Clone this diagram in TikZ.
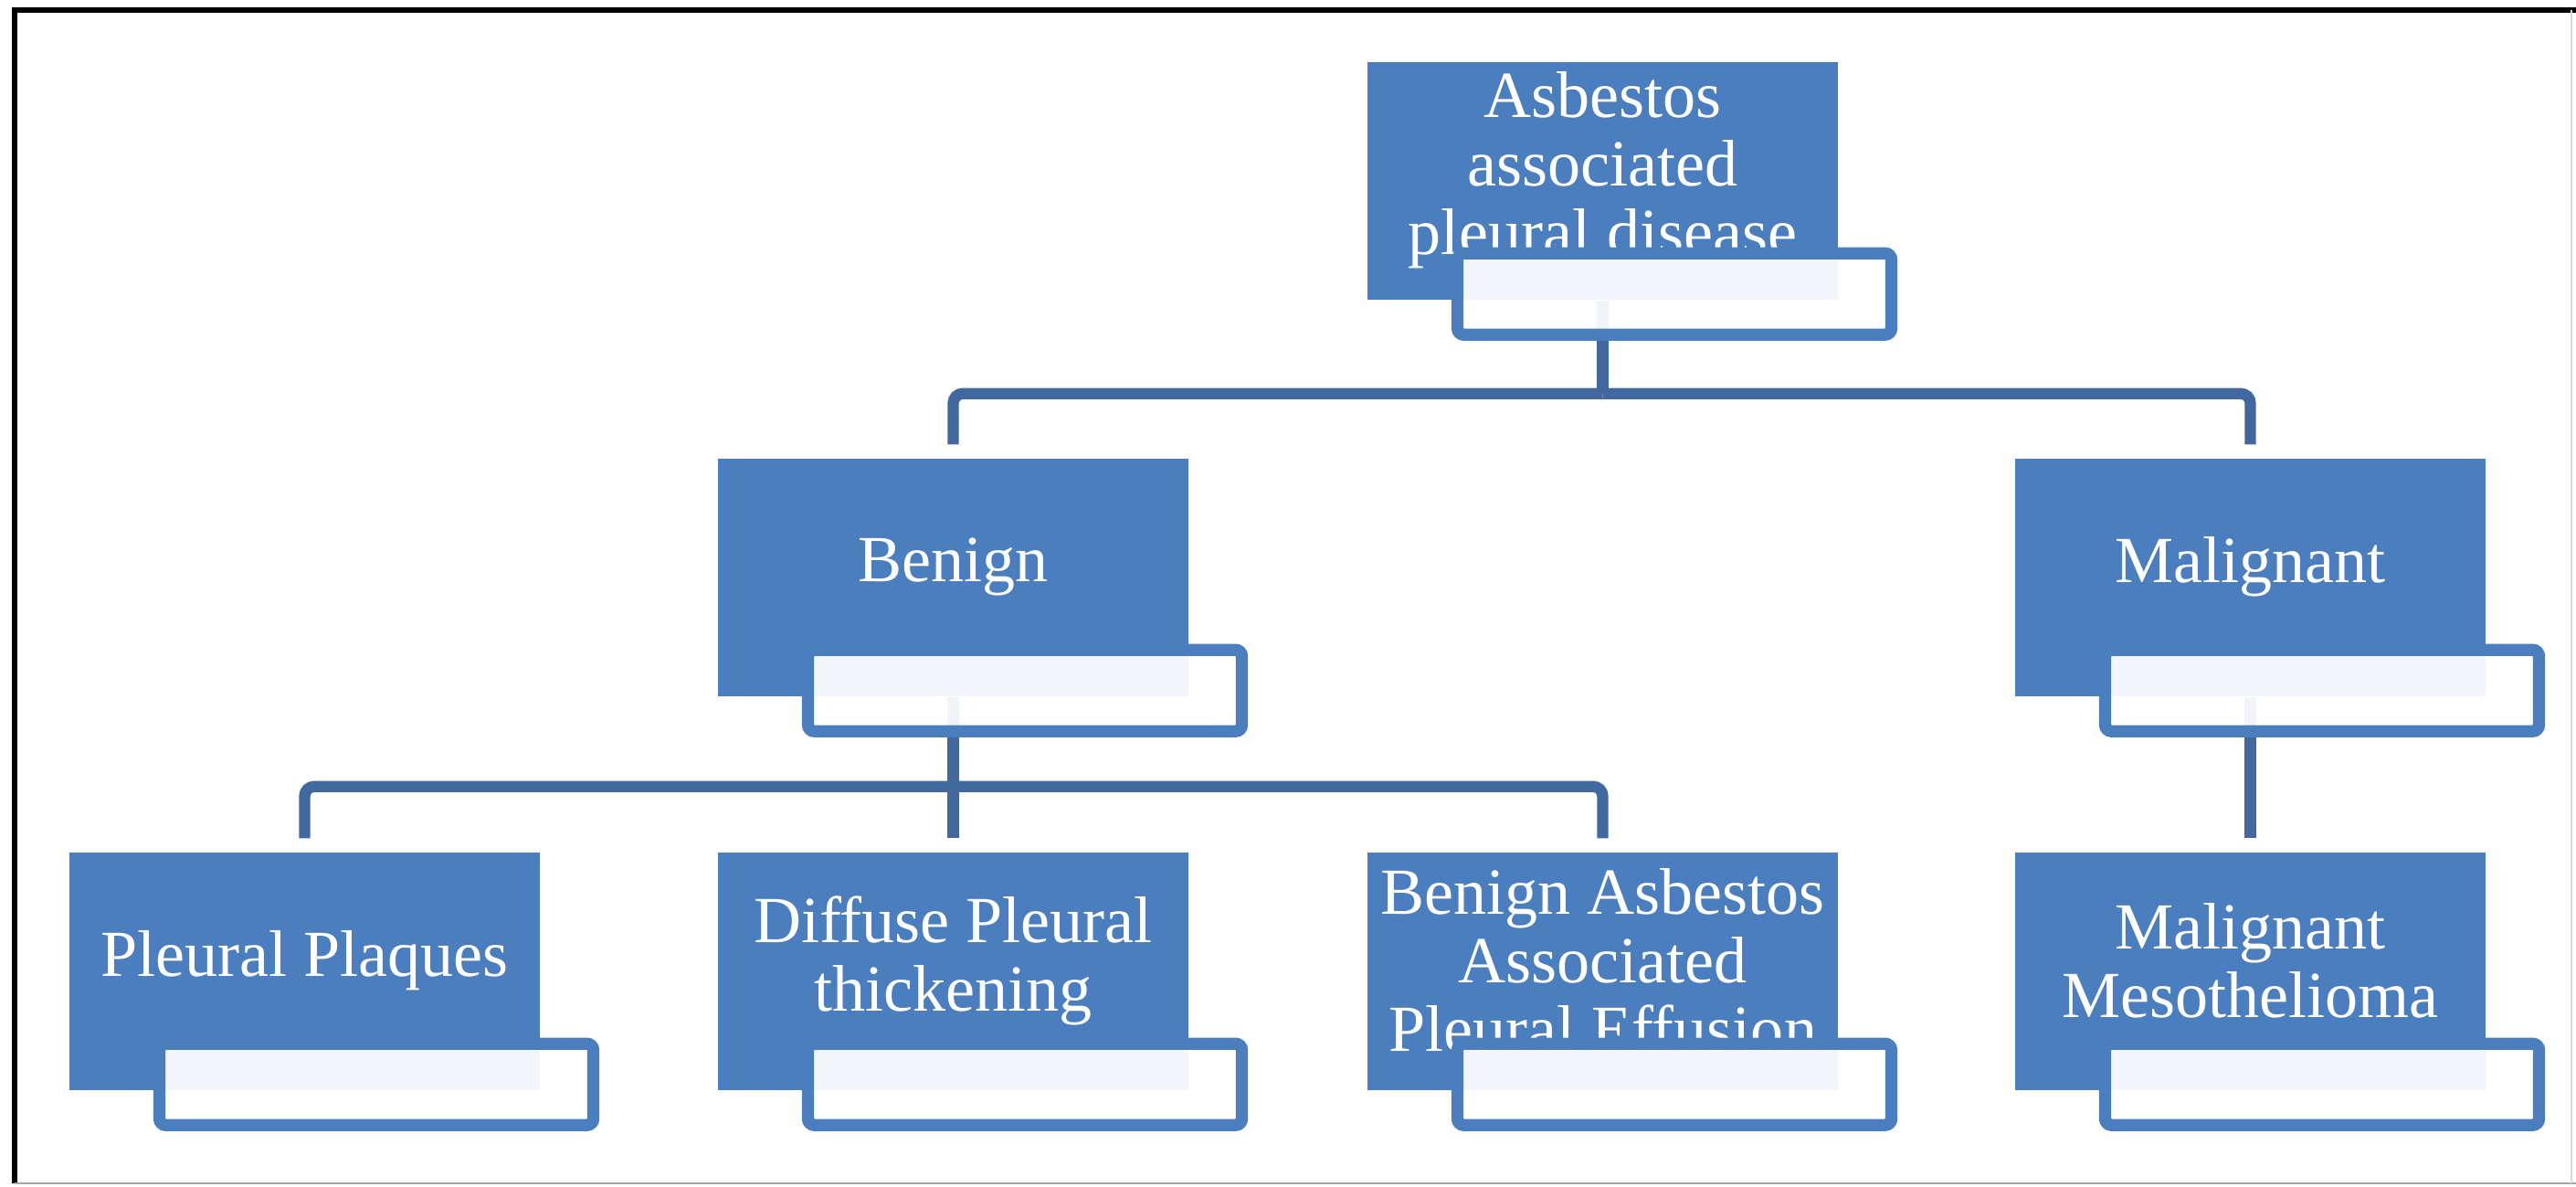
\documentclass[tikz,border=0pt]{standalone}
\usepackage{fontspec}
\setmainfont{Liberation Serif}
\usetikzlibrary{backgrounds}
\definecolor{boxblue}{HTML}{4A7EBF}
\definecolor{linkblue}{HTML}{41699F}
\begin{document}
\begin{tikzpicture}[
  box/.style={fill=boxblue, draw=none, minimum width=5.15cm, minimum height=2.6cm, inner sep=0pt},
  lbl/.style={text=white, align=center, inner sep=0pt, font=\fontsize{20.5pt}{21.3pt}\selectfont},
  tab/.style={draw=boxblue, line width=3.8pt, fill=white, fill opacity=0.93, rounded corners=2pt,
              minimum width=4.75cm, minimum height=0.89cm, inner sep=0pt},
  stem/.style={draw=linkblue, line width=3.5pt},
  link/.style={draw=linkblue, line width=3.5pt, rounded corners=3pt, shorten >=0.15cm},
]
\useasboundingbox (0,0) rectangle (28.2,-12.98);

% page frame
\draw[line width=1.5pt, black] (0.16,-12.95) -- (0.16,-0.11) -- (28.2,-0.11);
\draw[line width=0.6pt, black!35] (0.16,-12.95) -- (28.2,-12.95);
\draw[line width=0.4pt, black!15] (28.15,-0.11) -- (28.15,-12.95);

% level 0
\node[box] (top) at (17.545,-1.98) {};
\node[lbl] (top-t) at ([yshift=0.12cm]top.center) {Asbestos\\associated\\pleural disease};
\node[tab] (top-w) at ([xshift=0.785cm,yshift=0.07cm]top.south) {};

% level 1
\node[box] (benign) at (10.435,-6.32) {};
\node[lbl] (benign-t) at ([yshift=0.12cm]benign.center) {Benign};
\node[tab] (benign-w) at ([xshift=0.785cm,yshift=0.07cm]benign.south) {};

\node[box] (malig) at (24.635,-6.32) {};
\node[lbl] (malig-t) at ([yshift=0.12cm]malig.center) {Malignant};
\node[tab] (malig-w) at ([xshift=0.785cm,yshift=0.07cm]malig.south) {};

% level 2
\node[box] (pp) at (3.335,-10.63) {};
\node[lbl] (pp-t) at ([yshift=0.12cm]pp.center) {Pleural Plaques};
\node[tab] (pp-w) at ([xshift=0.785cm,yshift=0.07cm]pp.south) {};

\node[box] (dpt) at (10.435,-10.63) {};
\node[lbl] (dpt-t) at ([yshift=0.12cm]dpt.center) {Diffuse Pleural\\thickening};
\node[tab] (dpt-w) at ([xshift=0.785cm,yshift=0.07cm]dpt.south) {};

\node[box] (bap) at (17.545,-10.63) {};
\node[lbl] (bap-t) at ([yshift=0.12cm]bap.center) {Benign Asbestos\\Associated\\Pleural Effusion};
\node[tab] (bap-w) at ([xshift=0.785cm,yshift=0.07cm]bap.south) {};

\node[box] (mm) at (24.635,-10.63) {};
\node[lbl] (mm-t) at ([yshift=0.12cm]mm.center) {Malignant\\Mesothelioma};
\node[tab] (mm-w) at ([xshift=0.785cm,yshift=0.07cm]mm.south) {};

% connectors, behind the boxes
\begin{pgfonlayer}{background}
\draw[stem] (top.south) -- ++(0,-1.02) coordinate (topbar);
\draw[link] (topbar) -| (benign.north);
\draw[link] (topbar) -| (malig.north);
\draw[stem] (benign.south) -- ++(0,-0.98) coordinate (benignbar);
\draw[link] (benignbar) -| (pp.north);
\draw[link] (benign.south) -- (dpt.north);
\draw[link] (benignbar) -| (bap.north);
\draw[link] (malig.south) -- (mm.north);
\end{pgfonlayer}
\end{tikzpicture}
\end{document}
